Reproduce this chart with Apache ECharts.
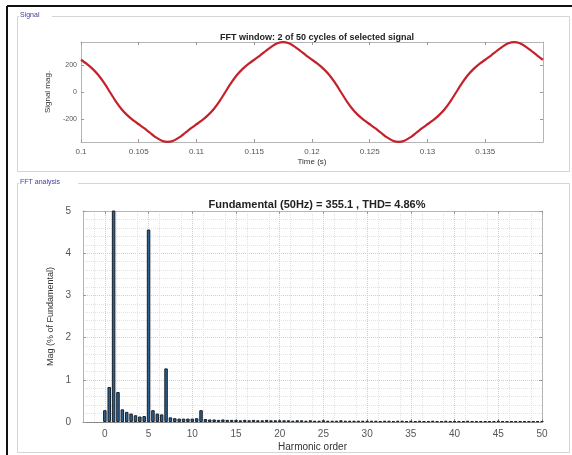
<!DOCTYPE html>
<html>
<head>
<meta charset="utf-8">
<script src="https://cdn.jsdelivr.net/npm/echarts@6/dist/echarts.min.js"></script>
<style>
  html, body { margin: 0; padding: 0; background: #fff; }
  #chart { width: 572px; height: 455px; }
</style>
</head>
<body>
<div id="chart"></div>
<script>
// signal window (2 cycles), sampled every 0.5 ms from t = 0.1 s
const signalStart = 0.1;
const signalStep = 0.0005;
const signalMag = [
  240, 209, 172, 126, 67, 0, -67, -126, -172, -209,
  -240, -271, -305, -338, -362, -371, -362, -338, -305, -271,
  -240, -209, -172, -126, -67, 0, 67, 126, 172, 209,
  240, 271, 305, 338, 362, 371, 362, 338, 305, 271,
  240, 209, 172, 126, 67, 0, -67, -126, -172, -209,
  -240, -271, -305, -338, -362, -371, -362, -338, -305, -271,
  -240, -209, -172, -126, -67, 0, 67, 126, 172, 209,
  240, 271, 305, 338, 362, 371, 362, 338, 305, 271,
  240
];
const timeTicks = [0.1, 0.105, 0.11, 0.115, 0.12, 0.125, 0.13, 0.135];
const magTicks = [-200, 0, 200];

// harmonic spectrum, one bar every 0.5 order (25 Hz resolution)
const orderStep = 0.5;
const harmonicMag = [
  0.28, 0.83, 100, 0.71, 0.30, 0.24, 0.20, 0.16, 0.13, 0.14,
  4.56, 0.28, 0.20, 0.18, 1.27, 0.11, 0.09, 0.08, 0.08, 0.08,
  0.08, 0.09, 0.28, 0.07, 0.06,
  0.06, 0.05, 0.06, 0.05, 0.05, 0.05, 0.04, 0.05, 0.04, 0.05,
  0.04, 0.04, 0.05, 0.04, 0.04, 0.04,
  0.04, 0.04, 0.03, 0.04, 0.04, 0.03, 0.04, 0.03, 0.03, 0.04,
  0.03, 0.03, 0.03, 0.04, 0.03, 0.03, 0.03, 0.03, 0.03, 0.03,
  0.03, 0.03, 0.02, 0.03, 0.03, 0.02, 0.03, 0.03, 0.02, 0.03,
  0.02, 0.03, 0.02, 0.02, 0.03, 0.02, 0.02, 0.03, 0.02, 0.02,
  0.02, 0.02, 0.03, 0.02, 0.02, 0.02, 0.02, 0.02, 0.02, 0.03,
  0.02, 0.02, 0.02, 0.02, 0.02, 0.02, 0.02, 0.02, 0.02, 0.02
];
const orderTicks = [0, 5, 10, 15, 20, 25, 30, 35, 40, 45, 50];

const signalData = signalMag.map((v, i) => [signalStart + i * signalStep, v]);
const harmonicData = harmonicMag.map((v, i) => [i * orderStep, v]);

const font = 'Liberation Sans, Arial, sans-serif';
const txt = '#333';
const boxLine = { show: true, onZero: false, lineStyle: { color: '#b5b5b5', width: 1 } };

const chart = echarts.init(document.getElementById('chart'), null, { renderer: 'canvas' });

const option = {
  backgroundColor: '#fff',
  animation: false,
  textStyle: { fontFamily: font },
  title: [
    {
      text: 'FFT window: 2 of 50 cycles of selected signal',
      left: 312, top: 28, textAlign: 'center',
      textStyle: { fontSize: 9, fontWeight: 'bold', color: '#222', fontFamily: font },
    },
    {
      text: 'Fundamental (50Hz) = 355.1 , THD= 4.86%',
      left: 312, top: 194, textAlign: 'center',
      textStyle: { fontSize: 11, fontWeight: 'bold', color: '#222', fontFamily: font },
    },
  ],
  grid: [
    { left: 81, top: 42, right: 29, bottom: 313, outerBoundsMode: 'none' },
    { left: 83, top: 211, right: 30, bottom: 33, outerBoundsMode: 'none' },
  ],
  xAxis: [
    {
      gridIndex: 0, type: 'value', min: 0.1, max: 0.14,
      name: 'Time (s)', nameLocation: 'middle', nameGap: 16,
      nameTextStyle: { fontSize: 8, color: txt },
      axisLine: boxLine,
      axisTick: { inside: true, length: 3, customValues: timeTicks, lineStyle: { color: '#999' } },
      axisLabel: {
        customValues: timeTicks, fontSize: 8, color: '#555', margin: 6,
        formatter: v => String(+v.toFixed(3)),
      },
      splitLine: { show: false },
    },
    {
      gridIndex: 0, type: 'value', min: 0.1, max: 0.14, position: 'top',
      axisLine: boxLine,
      axisTick: { inside: true, length: 3, customValues: timeTicks, lineStyle: { color: '#999' } },
      axisLabel: { show: false },
      splitLine: { show: false },
    },
    {
      gridIndex: 1, type: 'value', min: -2.5, max: 50, interval: 2.5,
      name: 'Harmonic order', nameLocation: 'middle', nameGap: 20,
      nameTextStyle: { fontSize: 10, color: txt },
      axisLine: { show: true, onZero: false, lineStyle: { color: '#888' } },
      axisTick: { inside: true, length: 3, customValues: orderTicks, lineStyle: { color: '#888' } },
      axisLabel: { customValues: orderTicks, fontSize: 10, color: '#555', margin: 7 },
      splitLine: { show: true, lineStyle: { color: '#d0d0d0', type: 'dotted' } },
      minorTick: { show: false, splitNumber: 2 },
      minorSplitLine: { show: true, lineStyle: { color: '#e2e2e2', type: 'dotted' } },
    },
    {
      gridIndex: 1, type: 'value', min: -2.5, max: 50, position: 'top',
      axisLine: boxLine,
      axisTick: { inside: true, length: 3, customValues: orderTicks, lineStyle: { color: '#999' } },
      axisLabel: { show: false },
      splitLine: { show: false },
    },
  ],
  yAxis: [
    {
      gridIndex: 0, type: 'value', min: -372, max: 372,
      name: 'Signal mag.', nameLocation: 'middle', nameGap: 27,
      nameTextStyle: { fontSize: 8, color: txt },
      axisLine: boxLine,
      axisTick: { inside: true, length: 3, customValues: magTicks, lineStyle: { color: '#999' } },
      axisLabel: { customValues: magTicks, fontSize: 7, color: '#555', margin: 4 },
      splitLine: { show: false },
    },
    {
      gridIndex: 0, type: 'value', min: -372, max: 372, position: 'right',
      axisLine: boxLine,
      axisTick: { inside: true, length: 3, customValues: magTicks, lineStyle: { color: '#999' } },
      axisLabel: { show: false },
      splitLine: { show: false },
    },
    {
      gridIndex: 1, type: 'value', min: 0, max: 5, interval: 1,
      name: 'Mag (% of Fundamental)', nameLocation: 'middle', nameGap: 18,
      nameTextStyle: { fontSize: 9, color: txt },
      axisLine: { show: true, onZero: false, lineStyle: { color: '#b5b5b5' } },
      axisTick: { inside: true, length: 3, lineStyle: { color: '#999' } },
      axisLabel: { fontSize: 10, color: '#555', margin: 12 },
      splitLine: { show: true, lineStyle: { color: '#cfcfcf', type: 'dotted' } },
      minorTick: { show: false, splitNumber: 5 },
      minorSplitLine: { show: true, lineStyle: { color: '#e2e2e2', type: 'dotted' } },
    },
    {
      gridIndex: 1, type: 'value', min: 0, max: 5, position: 'right',
      axisLine: boxLine,
      axisTick: { inside: true, length: 3, lineStyle: { color: '#999' } },
      axisLabel: { show: false },
      splitLine: { show: false },
    },
  ],
  series: [
    {
      name: 'Signal', type: 'line', xAxisIndex: 0, yAxisIndex: 0,
      data: signalData, showSymbol: false, smooth: 0.2,
      lineStyle: { color: '#c4222b', width: 2.2 },
      clip: false,
    },
    {
      name: 'Harmonics', type: 'bar', xAxisIndex: 2, yAxisIndex: 2,
      data: harmonicData, barWidth: 3.5, clip: true,
      itemStyle: { color: '#2e5f8e', borderColor: '#17212c', borderWidth: 1 },
    },
  ],
  graphic: [
    // outer frame
    { type: 'line', shape: { x1: 7, y1: 6, x2: 572, y2: 6 }, style: { stroke: '#111', lineWidth: 2 } },
    { type: 'line', shape: { x1: 7, y1: 6, x2: 7, y2: 455 }, style: { stroke: '#111', lineWidth: 2 } },
    // Signal panel
    { type: 'polyline', shape: { points: [[52, 16.5], [569.5, 16.5], [569.5, 171.5], [17.5, 171.5], [17.5, 16.5], [19, 16.5]] },
      style: { stroke: '#d4d4d4', fill: null, lineWidth: 1 } },
    { type: 'text', left: 20, top: 12, style: { text: 'Signal', fontSize: 7, fill: '#3a3fa0', fontFamily: font } },
    // FFT analysis panel
    { type: 'polyline', shape: { points: [[78, 183.5], [569.5, 183.5], [569.5, 452.5], [17.5, 452.5], [17.5, 183.5], [19, 183.5]] },
      style: { stroke: '#d4d4d4', fill: null, lineWidth: 1 } },
    { type: 'text', left: 20, top: 179, style: { text: 'FFT analysis', fontSize: 7, fill: '#3a3fa0', fontFamily: font } },
  ],
};

chart.setOption(option);
</script>
</body>
</html>
